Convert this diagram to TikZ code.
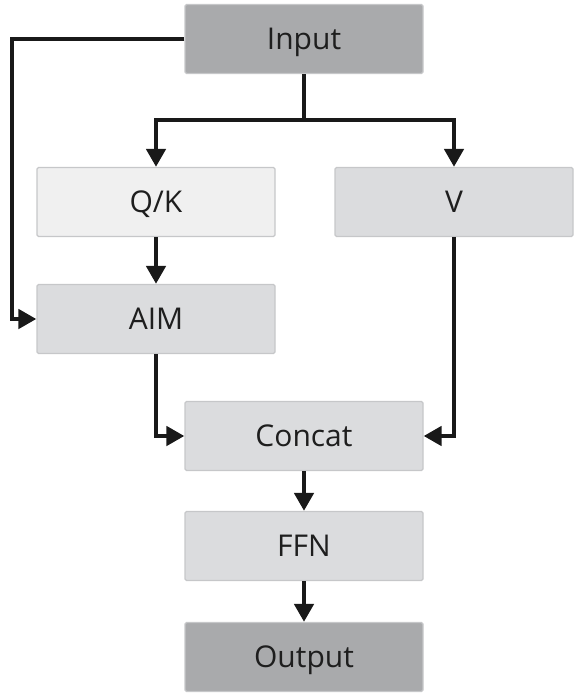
\documentclass[tikz,border=0pt]{standalone}
\usepackage{fontspec}
\setmainfont{Open Sans}
\usetikzlibrary{arrows.meta}
\definecolor{darkbox}{HTML}{A9AAAC}
\definecolor{midbox}{HTML}{DBDCDE}
\definecolor{lightbox}{HTML}{F0F0F0}
\definecolor{boxline}{HTML}{C6C7C9}
\definecolor{txt}{HTML}{1E1E1E}

\begin{document}
\begin{tikzpicture}[x=1pt,y=-1pt]

	\tikzset{blk/.style={draw=boxline, line width=1.2pt, rounded corners=1.5pt, minimum width=238pt, minimum height=69pt, inner sep=0pt, text depth=0pt, text=txt, font=\fontsize{30}{34}\selectfont},
		flow/.style={line width=4.5pt, draw=black!90, -{Triangle[length=18pt,width=19pt]}}}
	\useasboundingbox (0,0) rectangle (582,696);

	\node[blk,fill=darkbox] (in) at (304,39) {Input};
	\node[blk,fill=lightbox] (qk) at (156,202) {Q/K};
	\node[blk,fill=midbox] (v) at (454,202) {V};
	\node[blk,fill=midbox] (aim) at (156,319) {AIM};
	\node[blk,fill=midbox] (cat) at (304,436) {Concat};
	\node[blk,fill=midbox] (ffn) at (304,546) {FFN};
	\node[blk,fill=darkbox] (out) at (304,657) {Output};

	\coordinate (split) at (304,120);
	\coordinate (side) at (12,39);

	\draw[flow] (in.west) -- (side) |- (aim.west);
	\draw[flow] (in.south) -- (split) -| (qk.north);
	\draw[flow] (split) -| (v.north);
	\draw[flow] (qk) -- (aim);
	\draw[flow] (aim.south) |- (cat.west);
	\draw[flow] (v.south) |- (cat.east);
	\draw[flow] (cat) -- (ffn);
	\draw[flow] (ffn) -- (out);

\end{tikzpicture}
\end{document}
